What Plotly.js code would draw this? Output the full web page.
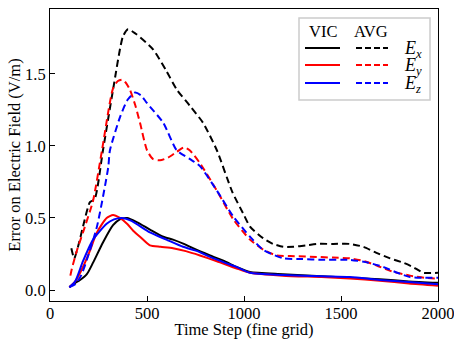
<!DOCTYPE html>
<html><head><meta charset="utf-8">
<script src="https://cdn.plot.ly/plotly-3.0.1.min.js"></script>
<style>body{margin:0;background:#fff}#c{width:454px;height:339px}</style>
</head><body><div id="c"></div>
<script>
// AVG (dashed)
const avgEx_x = [110,125,150,170,206,230,273,325,376,402,440,531,600,654,720,789,860,940,1000,1031,1098,1150,1202,1254,1320,1375,1460,1546,1615,1680,1753,1820,1871,1924,2000];
const avgEx_y = [0.29,0.22,0.33,0.44,0.61,0.63,0.97,1.39,1.76,1.81,1.78,1.67,1.52,1.39,1.28,1.16,0.97,0.68,0.52,0.44,0.36,0.32,0.30,0.30,0.31,0.32,0.32,0.32,0.30,0.26,0.22,0.19,0.16,0.12,0.12];
const avgEy_x = [105,113,140,170,222,268,325,350,371,390,412,440,464,500,530,567,610,654,690,720,773,860,945,1031,1100,1168,1260,1375,1460,1546,1620,1684,1760,1856,1930,2000];
const avgEy_y = [0.10,0.15,0.28,0.40,0.62,0.97,1.40,1.45,1.46,1.44,1.39,1.28,1.16,0.97,0.91,0.90,0.92,0.96,0.99,0.97,0.88,0.69,0.49,0.35,0.28,0.24,0.235,0.23,0.225,0.22,0.20,0.17,0.13,0.10,0.085,0.08];
const avgEz_x = [100,130,160,190,242,300,309,361,400,438,470,498,584,653,720,773,860,945,1031,1098,1202,1300,1400,1546,1640,1718,1790,1856,1930,2000];
const avgEz_y = [0.02,0.04,0.10,0.21,0.44,0.85,0.97,1.20,1.32,1.37,1.35,1.30,1.16,0.97,0.91,0.86,0.69,0.51,0.37,0.28,0.22,0.215,0.21,0.21,0.19,0.16,0.12,0.09,0.085,0.085];
// VIC (solid)
const vicEx_x = [100,130,155,190,222,273,325,360,397,450,515,584,634,690,737,825,900,962,1031,1200,1400,1546,1700,1850,2000];
const vicEx_y = [0.02,0.05,0.07,0.11,0.19,0.33,0.45,0.49,0.50,0.47,0.42,0.37,0.35,0.32,0.29,0.24,0.20,0.16,0.125,0.11,0.095,0.085,0.075,0.06,0.05];
const vicEy_x = [100,130,170,205,242,292,325,360,397,430,464,515,570,634,700,773,860,962,1031,1200,1400,1546,1700,1850,2000];
const vicEy_y = [0.02,0.06,0.16,0.27,0.40,0.50,0.52,0.50,0.46,0.41,0.37,0.31,0.30,0.29,0.27,0.24,0.20,0.15,0.12,0.10,0.09,0.08,0.065,0.045,0.03];
const vicEz_x = [100,130,170,222,292,330,371,420,515,600,686,760,825,900,962,1031,1200,1400,1546,1700,1850,2000];
const vicEz_y = [0.02,0.06,0.20,0.35,0.46,0.49,0.50,0.48,0.40,0.35,0.30,0.27,0.23,0.19,0.16,0.12,0.105,0.095,0.09,0.07,0.055,0.04];

const colors = {x:'#000000', y:'#ff0000', z:'#0000ff'};
const W = 2, DASH = '7px,4px';
function tr(x, y, c, dash){
  return {x:x, y:y, type:'scatter', mode:'lines', line:{color:c, width:W, dash:dash, shape:'spline', smoothing:0.6}, showlegend:false, hoverinfo:'skip'};
}
const data = [
  tr(vicEx_x, vicEx_y, colors.x, 'solid'),
  tr(vicEy_x, vicEy_y, colors.y, 'solid'),
  tr(vicEz_x, vicEz_y, colors.z, 'solid'),
  tr(avgEx_x, avgEx_y, colors.x, DASH),
  tr(avgEy_x, avgEy_y, colors.y, DASH),
  tr(avgEz_x, avgEz_y, colors.z, DASH)
];

// legend drawn in paper coordinates (pixel -> paper)
const L=50, R=438, T=9, B=301;
const px = v => (v-L)/(R-L), py = v => (B-v)/(B-T);
const shapes = [];
const annotations = [];
shapes.push({type:'rect', xref:'paper', yref:'paper', x0:px(299), x1:px(430), y0:py(100), y1:py(18), line:{color:'#cccccc', width:1.5}, fillcolor:'rgba(255,255,255,0.85)', layer:'above'});
const rows = [['x',48,'x'],['y',65,'y'],['z',83,'z']];
rows.forEach(r=>{
  shapes.push({type:'line', xref:'paper', yref:'paper', x0:px(305), x1:px(340), y0:py(r[1]), y1:py(r[1]), line:{color:colors[r[0]], width:W}, layer:'above'});
  shapes.push({type:'line', xref:'paper', yref:'paper', x0:px(356), x1:px(388), y0:py(r[1]), y1:py(r[1]), line:{color:colors[r[0]], width:W, dash:'6px,3px'}, layer:'above'});
  annotations.push({xref:'paper', yref:'paper', x:px(402), y:py(r[1]+1), xanchor:'left', yanchor:'middle', showarrow:false, text:'<i>E</i><sub><i>'+r[2]+'</i></sub>', font:{family:'Liberation Serif', size:18, color:'#000'}});
});
annotations.push({xref:'paper', yref:'paper', x:px(323), y:py(32), xanchor:'center', yanchor:'middle', showarrow:false, text:'VIC', font:{family:'Liberation Serif', size:16.5, color:'#000'}});
annotations.push({xref:'paper', yref:'paper', x:px(371), y:py(32), xanchor:'center', yanchor:'middle', showarrow:false, text:'AVG', font:{family:'Liberation Serif', size:16.5, color:'#000'}});

const layout = {
  width:454, height:339,
  margin:{l:L, r:454-R, t:T, b:339-B},
  paper_bgcolor:'#fff', plot_bgcolor:'#fff',
  font:{family:'Liberation Serif', size:16, color:'#000'},
  xaxis:{range:[0,2000], tickvals:[0,500,1000,1500,2000], ticks:'inside', ticklen:5, tickcolor:'#000', showline:true, linecolor:'#000', linewidth:1, mirror:true, showgrid:false, zeroline:false, ticklabeloverflow:'allow', ticklabelstandoff:-3,
    title:{text:'Time Step (fine grid)', font:{family:'Liberation Serif', size:16.5}, standoff:3}, tickfont:{family:'Liberation Serif', size:16.5}},
  yaxis:{range:[-0.076,1.95], tickvals:[0,0.5,1.0,1.5], tickformat:'.1f', ticks:'inside', ticklen:5, tickcolor:'#000', showline:true, linecolor:'#000', linewidth:1, mirror:true, showgrid:false, zeroline:false, ticklabeloverflow:'allow',
    title:{text:'Error on Electric Field (V/m)', font:{family:'Liberation Serif', size:16.5}, standoff:0}, tickfont:{family:'Liberation Serif', size:16.5}},
  shapes:shapes, annotations:annotations, showlegend:false
};
Plotly.newPlot('c', data, layout, {displayModeBar:false, staticPlot:true});
</script></body></html>
